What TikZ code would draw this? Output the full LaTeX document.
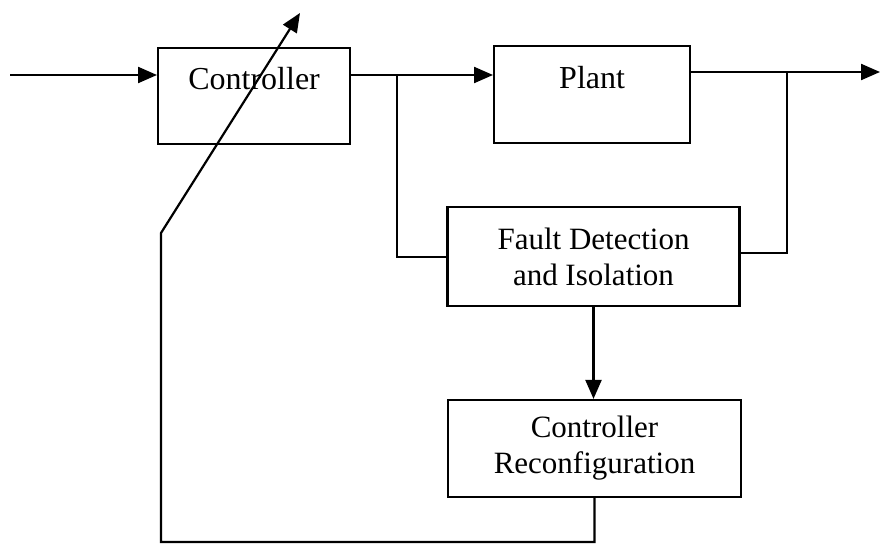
\documentclass[tikz,border=0pt]{standalone}
\usepackage{fontspec}
\setmainfont{Liberation Serif}
\usetikzlibrary{arrows.meta}
\begin{document}
\begin{tikzpicture}[x=1pt,y=-1pt,
  line width=2.2pt,
  arr/.style={-{Triangle[length=19pt,width=16pt]}},
  topbox/.style={draw,inner sep=0pt,anchor=north west,font=\fontsize{32}{36}\selectfont},
  midbox/.style={draw,inner sep=0pt,align=center,font=\fontsize{31}{36}\selectfont}]
\useasboundingbox (0,0) rectangle (880,545);
% blocks
\node[topbox,minimum width=192pt,text height=41pt,text depth=55pt] (ctrl) at (157,47) {Controller};
\node[topbox,minimum width=196pt,text height=42pt,text depth=55pt] (plant) at (493,45) {Plant};
\node[midbox,minimum width=292pt,minimum height=99pt] (fdi) at (593.5,256.5) {Fault Detection\\and Isolation};
\node[midbox,minimum width=293pt,minimum height=97pt] (recon) at (594.5,448.5) {Controller\\Reconfiguration};
% connector points
\coordinate (in) at (10,75);
\coordinate (b1) at (397,75);
\coordinate (fl) at (397,257);
\coordinate (out) at (880,72);
\coordinate (b2) at (787,72);
\coordinate (fr) at (787,253);
\coordinate (c1) at (161,542);
\coordinate (c2) at (161,233);
\coordinate (tip) at (300,13);
% connectors
\draw[arr] (in) -- (ctrl.west |- in);
\draw[arr] (ctrl.east |- b1) -- (plant.west |- b1);
\draw (b1) -- (fl) -- (fdi.west |- fl);
\draw[arr] (plant.east |- out) -- (out);
\draw (b2) -- (fr) -- (fdi.east |- fr);
\draw[arr] (fdi.south) -- (fdi.south |- recon.north);
\draw[arr] (recon.south) -- (recon.south |- c1) -- (c1) -- (c2) -- (tip);
\end{tikzpicture}
\end{document}
